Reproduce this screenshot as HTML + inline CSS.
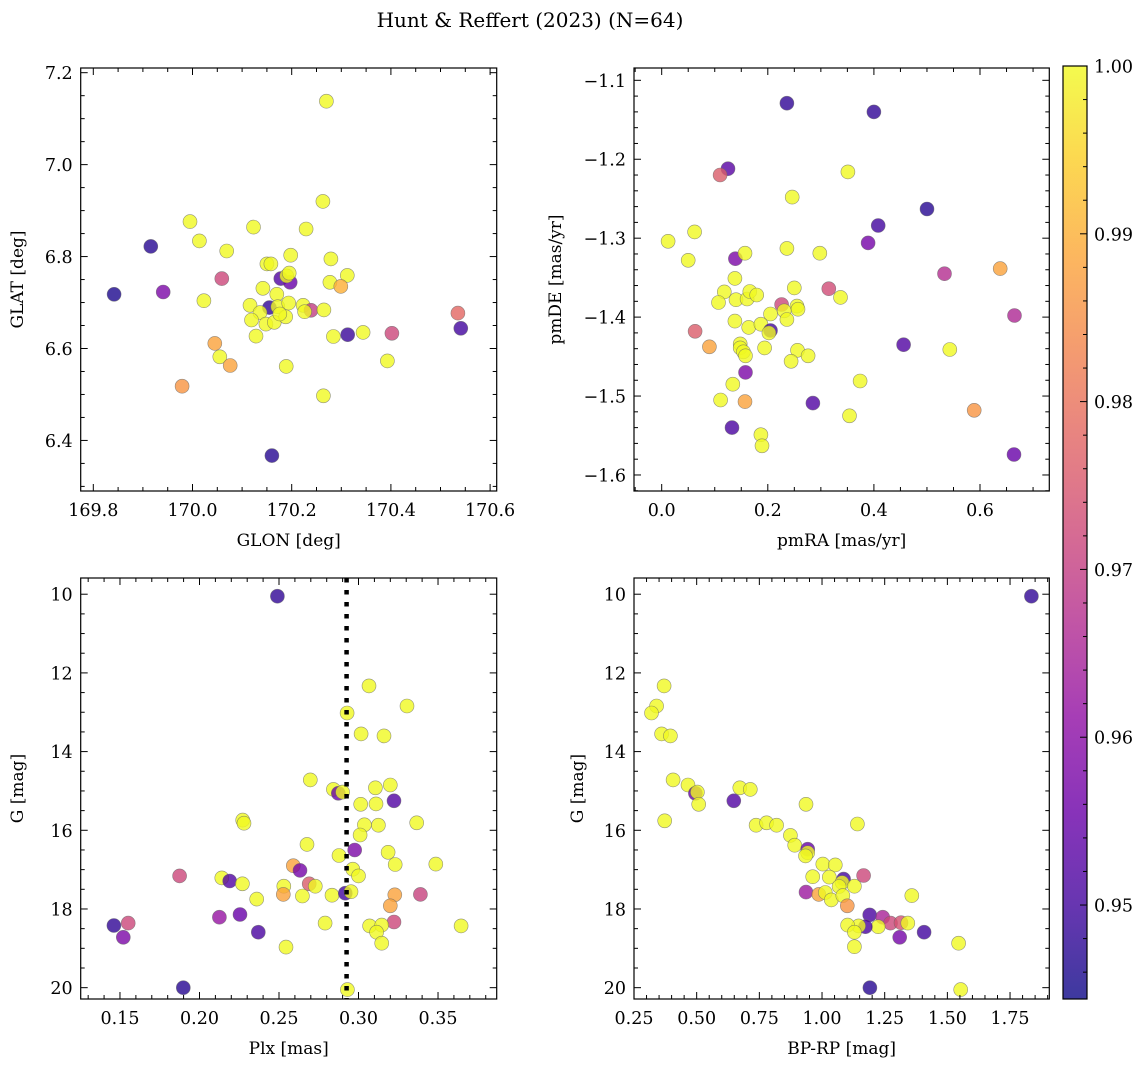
<!DOCTYPE html>
<html><head><meta charset="utf-8">
<style>
html,body{margin:0;padding:0;background:#fff;}
svg{display:block;font-family:"DejaVu Serif","Liberation Serif",serif;}
</style></head>
<body>
<svg id="fig" width="1148" height="1067" viewBox="0 0 1148 1067" xmlns="http://www.w3.org/2000/svg">
<text x="530" y="27" font-size="20" text-anchor="middle">Hunt &amp; Reffert (2023) (N=64)</text>
</svg>
<script>
// ---- Panel A: GLON vs GLAT ----
const glonA=[169.995,169.916,170.014,170.123,170.069,170.263,170.229,170.198,170.150,170.158,170.279,170.059,169.842,169.941,170.023,170.178,170.197,170.19,170.195,170.277,170.312,170.299,170.142,170.17,170.116,170.155,170.172,170.194,170.136,170.223,170.239,170.226,170.265,170.119,170.148,170.165,170.188,170.176,170.128,170.313,170.284,170.344,170.402,170.535,170.541,170.045,170.055,170.076,170.189,170.393,169.979,170.264,170.27,170.16];
const glatA=[6.876,6.822,6.834,6.864,6.812,6.920,6.860,6.803,6.784,6.784,6.795,6.752,6.718,6.723,6.704,6.752,6.744,6.758,6.764,6.744,6.759,6.735,6.731,6.718,6.694,6.689,6.691,6.699,6.678,6.694,6.683,6.680,6.684,6.662,6.653,6.657,6.669,6.675,6.627,6.630,6.626,6.635,6.633,6.677,6.644,6.611,6.582,6.563,6.561,6.573,6.518,6.497,7.138,6.367];
const probA=[1,0.947,1,1,1,1,1,1,1,1,1,0.972,0.946,0.958,1,0.952,0.955,1,1,1,1,0.99,1,1,1,0.948,1,1,1,1,0.97,1,1,1,1,1,1,1,1,0.949,1,1,0.972,0.978,0.95,0.988,1,0.988,1,1,0.986,1,1,0.947];
// ---- Panel B: pmRA vs pmDE ----
const pmraB=[0.012,0.062,0.050,0.139,0.157,0.236,0.298,0.389,0.408,0.138,0.118,0.107,0.140,0.161,0.166,0.179,0.25,0.315,0.337,0.226,0.255,0.257,0.231,0.205,0.236,0.138,0.164,0.187,0.205,0.202,0.063,0.090,0.148,0.148,0.154,0.158,0.194,0.256,0.276,0.244,0.456,0.543,0.533,0.638,0.665,0.158,0.134,0.374,0.111,0.157,0.285,0.589,0.354,0.1325,0.187,0.189,0.664,0.125,0.11,0.236,0.40,0.351,0.246,0.50];
const pmdeB=[-1.304,-1.292,-1.328,-1.326,-1.319,-1.313,-1.319,-1.306,-1.284,-1.351,-1.368,-1.3815,-1.378,-1.377,-1.3675,-1.372,-1.363,-1.364,-1.375,-1.384,-1.386,-1.390,-1.392,-1.396,-1.403,-1.405,-1.413,-1.409,-1.417,-1.420,-1.418,-1.4376,-1.434,-1.439,-1.444,-1.449,-1.439,-1.442,-1.449,-1.456,-1.435,-1.441,-1.345,-1.3385,-1.398,-1.470,-1.485,-1.481,-1.505,-1.507,-1.509,-1.518,-1.525,-1.540,-1.549,-1.563,-1.574,-1.212,-1.220,-1.129,-1.140,-1.216,-1.248,-1.263];
const probB=[1,1,1,0.958,1,1,1,0.957,0.95,1,1,1,1,1,1,1,1,0.973,1,0.972,1,1,1,1,1,1,1,1,0.95,1,0.976,0.988,1,1,1,1,1,1,1,1,0.952,1,0.967,0.988,0.966,0.958,1,1,1,0.988,0.952,0.986,1,0.951,1,1,0.955,0.953,0.976,0.948,0.948,1,1,0.947];
// ---- Panel C: Plx vs G ----
const plxC=[0.2697,0.2842,0.2873,0.290,0.3106,0.320,0.3223,0.3014,0.311,0.2272,0.228,0.3037,0.3125,0.3366,0.301,0.2676,0.2976,0.3186,0.2877,0.3231,0.3486,0.2964,0.300,0.259,0.2632,0.1875,0.214,0.219,0.227,0.269,0.2728,0.253,0.2527,0.236,0.2647,0.2833,0.2917,0.2953,0.3228,0.3389,0.320,0.2125,0.2255,0.279,0.3223,0.307,0.3146,0.3114,0.3146,0.3645,0.1462,0.1552,0.1521,0.237,0.2544,0.249,0.1898,0.293,0.3066,0.3305,0.2928,0.3016,0.316];
const gC=[14.72,14.96,15.06,15.03,14.92,14.85,15.25,15.34,15.33,15.74,15.82,15.86,15.87,15.81,16.12,16.36,16.50,16.56,16.64,16.87,16.86,16.99,17.16,16.90,17.02,17.16,17.21,17.29,17.36,17.36,17.42,17.42,17.63,17.75,17.67,17.65,17.60,17.56,17.64,17.63,17.92,18.21,18.14,18.36,18.33,18.43,18.41,18.59,18.87,18.43,18.42,18.36,18.72,18.59,18.97,10.05,20.0,20.05,12.33,12.84,13.02,13.55,13.6];
const probC=[1,1,0.955,1,1,1,0.952,1,1,1,1,1,1,1,1,1,0.958,1,1,1,1,1,1,0.988,0.957,0.972,1,0.952,1,0.976,1,1,0.988,1,1,1,0.95,1,0.988,0.971,0.988,0.962,0.955,1,0.972,1,1,1,1,1,0.948,0.972,0.958,0.951,1,0.948,0.947,1,1,1,1,1,1];
// ---- Panel D: BP-RP vs G ----
const bprpD=[0.406,0.4655,0.495,0.503,0.508,0.3725,0.648,0.672,0.714,0.936,0.737,0.779,0.819,1.141,0.874,0.891,0.943,0.943,0.934,1.003,1.053,0.963,1.029,1.086,1.08,1.068,1.129,1.166,0.936,0.987,1.013,1.037,1.083,1.101,1.358,1.19,1.242,1.273,1.315,1.342,1.224,1.173,1.146,1.102,1.129,1.129,1.31,1.407,1.835,0.34,0.32,0.37,0.36,0.395,1.191,1.553,1.545];
const gD=[14.72,14.85,15.06,15.03,15.34,15.76,15.25,14.92,14.96,15.34,15.87,15.81,15.87,15.84,16.13,16.38,16.48,16.57,16.65,16.86,16.88,17.18,17.19,17.24,17.33,17.43,17.42,17.15,17.57,17.63,17.58,17.77,17.66,17.92,17.66,18.15,18.21,18.36,18.35,18.36,18.45,18.45,18.43,18.41,18.59,18.96,18.72,18.59,10.05,12.84,13.02,12.33,13.55,13.6,20.0,20.05,18.87];
const probD=[1,1,0.955,1,1,1,0.952,1,1,1,1,1,1,1,1,1,0.955,1,1,1,1,1,1,0.95,1,1,1,0.972,0.963,0.988,1,1,1,0.986,1,0.951,0.965,0.972,0.974,1,1,0.951,1,1,1,1,0.957,0.95,0.948,1,1,1,1,1,0.947,1,1];
// ---- colorbar ----
const cbTicks=[0.95,0.96,0.97,0.98,0.99,1.00];
const cbMin=0.9444, cbMax=1.0;

const NS="http://www.w3.org/2000/svg";
const svg=document.getElementById('fig');
function mk(tag,attrs,parent){const e=document.createElementNS(NS,tag);for(const k in attrs)e.setAttribute(k,attrs[k]);(parent||svg).appendChild(e);return e;}
const plasma=[[13,8,135],[65,4,157],[106,0,168],[143,13,164],[177,42,144],[204,71,120],[225,100,98],[242,132,75],[252,166,54],[252,206,37],[240,249,33]];
function cmap(t){t=Math.max(0,Math.min(1,t));const f=t*10,i=Math.min(9,Math.floor(f)),r=f-i;const a=plasma[i],b=plasma[i+1];return 'rgb('+a.map((v,k)=>Math.round(v+(b[k]-v)*r)).join(',')+')';}
function lin(d0,d1,r0,r1){return v=>r0+(v-d0)/(d1-d0)*(r1-r0);}
function fmt(v,dec){return v.toFixed(dec).replace('-','\u2212');}

function panel(p){
  const g=mk('g',{});
  
  
  const sx=lin(p.xd[0],p.xd[1],p.x0,p.x1), sy=lin(p.yd[0],p.yd[1],p.y1,p.y0);
  const pg=mk('g',{},g);
  
  
  for(let i=0;i<p.xs.length;i++){
    const c=mk('circle',{cx:sx(p.xs[i]).toFixed(1),cy:sy(p.ys[i]).toFixed(1),r:7,fill:cmap((p.pr[i]-cbMin)/(cbMax-cbMin)),'fill-opacity':0.8,stroke:'#666','stroke-opacity':0.7,'stroke-width':0.6},pg);
    
    
  }
  if(p.vline!==undefined){
    const l=mk('line',{x1:sx(p.vline),x2:sx(p.vline),y1:p.y0,y2:p.y1,stroke:'#000','stroke-width':4.5,'stroke-dasharray':'4.5 7.5'},g);
    
    
  }
  const fr=mk('rect',{x:p.x0,y:p.y0,width:p.x1-p.x0,height:p.y1-p.y0,fill:'none',stroke:'#000','stroke-width':1.2},g);
  
  
  const tg=mk('g',{stroke:'#000','stroke-width':1},g);
  
  
  const eps=1e-9;
  const xs0=Math.ceil((Math.min(...p.xd)-eps)/p.xmin), xs1=Math.floor((Math.max(...p.xd)+eps)/p.xmin);
  for(let k=xs0;k<=xs1;k++){
    const v=k*p.xmin, X=sx(v);
    const major=Math.abs(v/p.xmaj-Math.round(v/p.xmaj))<1e-6;
    const L=major?7:4;
    mk('line',{x1:X,x2:X,y1:p.y1,y2:p.y1-L},tg);
    mk('line',{x1:X,x2:X,y1:p.y0,y2:p.y0+L},tg);
    if(major){
      const t=mk('text',{x:X,y:p.y1+25,'font-size':17.5,'text-anchor':'middle',stroke:'none',fill:'#000'},g);
      t.textContent=fmt(v,p.xdec);
      
      
    }
  }
  const ylo=Math.min(...p.yd), yhi=Math.max(...p.yd);
  const ys0=Math.ceil((ylo-eps)/p.ymin), ys1=Math.floor((yhi+eps)/p.ymin);
  for(let k=ys0;k<=ys1;k++){
    const v=k*p.ymin, Y=sy(v);
    const major=Math.abs(v/p.ymaj-Math.round(v/p.ymaj))<1e-6;
    const L=major?7:4;
    mk('line',{x1:p.x0,x2:p.x0+L,y1:Y,y2:Y},tg);
    mk('line',{x1:p.x1,x2:p.x1-L,y1:Y,y2:Y},tg);
    if(major){
      const t=mk('text',{x:p.x0-8,y:Y+6.5,'font-size':17.5,'text-anchor':'end',stroke:'none',fill:'#000'},g);
      t.textContent=fmt(v,p.ydec);
      
      
    }
  }
  const xl=mk('text',{x:(p.x0+p.x1)/2,y:p.y1+55,'font-size':17,'text-anchor':'middle'},g);
  xl.textContent=p.xlabel;
  
  
  const yx=p.ylx, yy=(p.y0+p.y1)/2;
  const yl=mk('text',{x:yx,y:yy,'font-size':17,'text-anchor':'middle',transform:'rotate(-90 '+yx+' '+yy+')'},g);
  yl.textContent=p.ylabel;
  
  
}

panel({name:'glon-glat-panel',xs:glonA,ys:glatA,pr:probA,x0:80.7,x1:496.7,y0:68,y1:491,xd:[169.7746,170.6133],yd:[6.290,7.2102],xmaj:0.2,xmin:0.05,ymaj:0.2,ymin:0.05,xdec:1,ydec:1,xlabel:'GLON [deg]',ylabel:'GLAT [deg]',ylx:23});
panel({name:'pm-panel',xs:pmraB,ys:pmdeB,pr:probB,x0:634,x1:1049.3,y0:68,y1:491,xd:[-0.0522,0.7306],yd:[-1.6203,-1.0844],xmaj:0.2,xmin:0.05,ymaj:0.1,ymin:0.02,xdec:1,ydec:1,xlabel:'pmRA [mas/yr]',ylabel:'pmDE [mas/yr]',ylx:561});
panel({name:'plx-g-panel',xs:plxC,ys:gC,pr:probC,x0:80.7,x1:496.7,y0:578,y1:999,xd:[0.1253,0.3869],yd:[20.288,9.588],xmaj:0.05,xmin:0.01,ymaj:2,ymin:0.5,xdec:2,ydec:0,xlabel:'Plx [mas]',ylabel:'G [mag]',ylx:23,vline:0.2925});
panel({name:'cmd-panel',xs:bprpD,ys:gD,pr:probD,x0:634,x1:1049.3,y0:578,y1:999,xd:[0.25,1.9066],yd:[20.288,9.588],xmaj:0.25,xmin:0.05,ymaj:2,ymin:0.5,xdec:2,ydec:0,xlabel:'BP-RP [mag]',ylabel:'G [mag]',ylx:583});

const cb=mk('g',{});


const defs=mk('defs',{},cb);
const grad=mk('linearGradient',{id:'cbg',x1:0,y1:1,x2:0,y2:0},defs);
for(let i=0;i<=20;i++){mk('stop',{offset:(i/20),'stop-color':cmap(i/20)},grad);}
const cbx0=1063,cbx1=1087,cby0=66,cby1=999;
const bar=mk('rect',{x:cbx0,y:cby0,width:cbx1-cbx0,height:cby1-cby0,fill:'url(#cbg)','fill-opacity':0.8},cb);


const cbf=mk('rect',{x:cbx0,y:cby0,width:cbx1-cbx0,height:cby1-cby0,fill:'none',stroke:'#000','stroke-width':1.2},cb);


const cs=lin(cbMin,cbMax,cby1,cby0);
for(let k=Math.ceil(cbMin/0.002);k<=Math.floor(cbMax/0.002+1e-6);k++){
  const v=k*0.002, Y=cs(v);
  const major=Math.abs(v*100-Math.round(v*100))<1e-6;
  mk('line',{x1:cbx1,x2:cbx1-(major?7:4),y1:Y,y2:Y,stroke:'#000','stroke-width':1},cb);
}
cbTicks.forEach(v=>{
  const t=mk('text',{x:cbx1+7,y:cs(v)+6.5,'font-size':17.5},cb);
  t.textContent=v.toFixed(2);
  
  
});
</script>
</body></html>
